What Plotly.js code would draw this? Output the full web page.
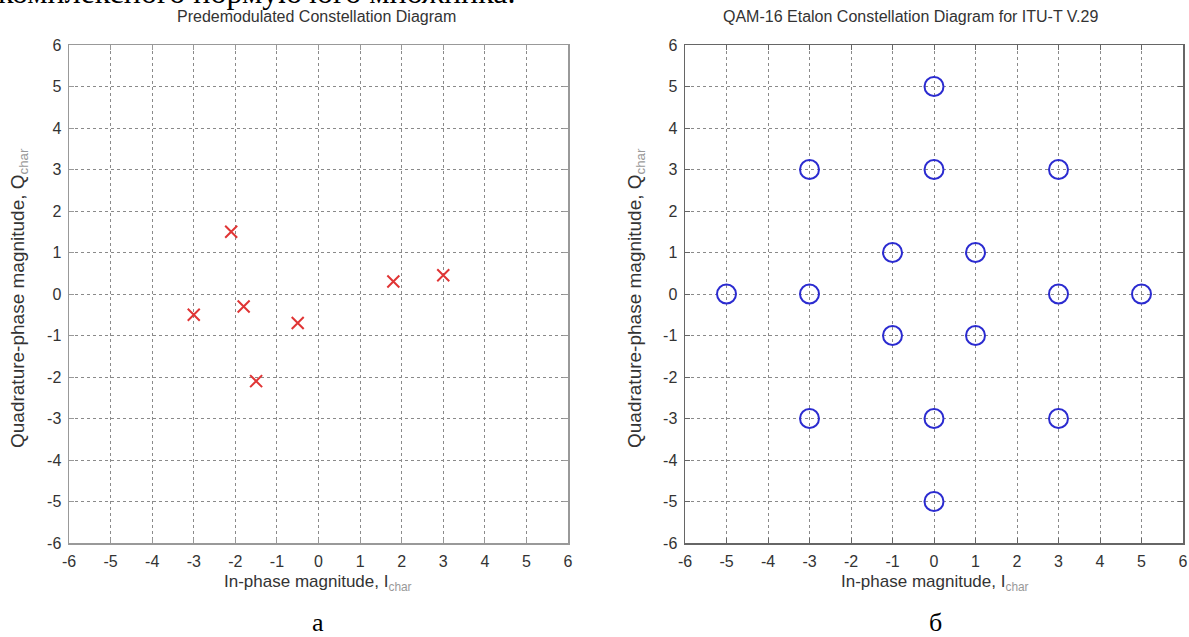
<!DOCTYPE html>
<html>
<head>
<meta charset="utf-8">
<script src="https://cdn.plot.ly/plotly-3.0.1.min.js"></script>
<style>html,body{margin:0;padding:0;background:#fff;}#chart{width:1189px;height:637px;}</style>
</head>
<body>
<div id="chart"></div>
<script>
// Data
const receivedI = [-2.1, -3.0, -1.8, -0.5, -1.5, 1.8, 3.0];
const receivedQ = [1.5, -0.5, -0.3, -0.7, -2.1, 0.3, 0.45];
const etalonI = [0, -3, 0, 3, -1, 1, -5, -3, 3, 5, -1, 1, -3, 0, 3, 0];
const etalonQ = [5, 3, 3, 3, 1, 1, 0, 0, 0, 0, -1, -1, -3, -3, -3, -5];
const tickVals = [-6, -5, -4, -3, -2, -1, 0, 1, 2, 3, 4, 5, 6];
const tickText = ["-6", "-5", "-4", "-3", "-2", "-1", "0", "1", "2", "3", "4", "5", "6"];
const titleLeft = "Predemodulated Constellation Diagram";
const titleRight = "QAM-16 Etalon Constellation Diagram for ITU-T V.29";
const xLabel = 'In-phase magnitude, I<sub><span style="color:#999999">char</span></sub>';
const yLabel = 'Quadrature-phase magnitude, Q<sub><span style="color:#999999">char</span></sub>';
const captionTop = "комплексного нормуючого множника.";

const W = 1189, H = 637;
const px = x => x / W;
const py = y => 1 - y / H;
const SANS = 'Liberation Sans, Arial, sans-serif';
const SERIF = 'Liberation Serif, Times New Roman, serif';

function axis(dom, anchor, lineColor) {
  return {
    domain: dom, anchor: anchor, range: [-6, 6], autorange: false,
    tickmode: 'array', tickvals: tickVals, ticktext: tickText,
    showgrid: true, gridcolor: '#8a8a8a', griddash: 'dot', gridwidth: 1,
    zeroline: false, showline: true, linecolor: lineColor, linewidth: 1.5,
    mirror: 'ticks', ticks: 'inside', ticklen: 5, tickcolor: lineColor,
    ticklabelstandoff: 3,
    tickfont: {family: SANS, size: 16, color: '#333'},
    fixedrange: true
  };
}

const yDom = [py(543), py(45)];
const layout = {
  width: W, height: H,
  margin: {l: 0, r: 0, t: 0, b: 0},
  paper_bgcolor: '#fff', plot_bgcolor: '#fff',
  showlegend: false,
  xaxis: axis([px(69), px(568)], 'y', '#999'),
  yaxis: axis(yDom, 'x', '#999'),
  xaxis2: axis([px(685), px(1183)], 'y2', '#666'),
  yaxis2: axis(yDom, 'x2', '#666'),
  annotations: [
    {text: captionTop, xref: 'paper', yref: 'paper', x: px(-4), y: py(-8), xanchor: 'left', yanchor: 'middle', showarrow: false, font: {family: SERIF, size: 32, color: '#000'}},
    {text: titleLeft, xref: 'paper', yref: 'paper', x: px(316), y: py(17), xanchor: 'center', yanchor: 'middle', showarrow: false, font: {family: SANS, size: 16, color: '#333'}},
    {text: titleRight, xref: 'paper', yref: 'paper', x: px(910), y: py(17), xanchor: 'center', yanchor: 'middle', showarrow: false, font: {family: SANS, size: 16, color: '#333'}},
    {text: xLabel, xref: 'paper', yref: 'paper', x: px(318), y: py(583), xanchor: 'center', yanchor: 'middle', showarrow: false, font: {family: SANS, size: 17, color: '#333'}},
    {text: xLabel, xref: 'paper', yref: 'paper', x: px(935), y: py(583), xanchor: 'center', yanchor: 'middle', showarrow: false, font: {family: SANS, size: 17, color: '#333'}},
    {text: yLabel, xref: 'paper', yref: 'paper', x: px(19), y: py(298), xanchor: 'center', yanchor: 'middle', textangle: -90, showarrow: false, font: {family: SANS, size: 19, color: '#333'}},
    {text: yLabel, xref: 'paper', yref: 'paper', x: px(636), y: py(298), xanchor: 'center', yanchor: 'middle', textangle: -90, showarrow: false, font: {family: SANS, size: 19, color: '#333'}},
    {text: 'а', xref: 'paper', yref: 'paper', x: px(318), y: py(622), xanchor: 'center', yanchor: 'middle', showarrow: false, font: {family: SERIF, size: 26, color: '#000'}},
    {text: 'б', xref: 'paper', yref: 'paper', x: px(935), y: py(622), xanchor: 'center', yanchor: 'middle', showarrow: false, font: {family: SERIF, size: 26, color: '#000'}}
  ]
};

const data = [
  {x: receivedI, y: receivedQ, xaxis: 'x', yaxis: 'y', type: 'scatter', mode: 'markers',
   marker: {symbol: 'x-thin', size: 12, color: '#e03535', line: {width: 2, color: '#e03535'}}, hoverinfo: 'x+y'},
  {x: etalonI, y: etalonQ, xaxis: 'x2', yaxis: 'y2', type: 'scatter', mode: 'markers',
   marker: {symbol: 'circle-open', size: 19, color: '#2b2bd0', line: {width: 2, color: '#2b2bd0'}}, hoverinfo: 'x+y'}
];

Plotly.newPlot('chart', data, layout, {displayModeBar: false, staticPlot: true});
</script>
</body>
</html>
